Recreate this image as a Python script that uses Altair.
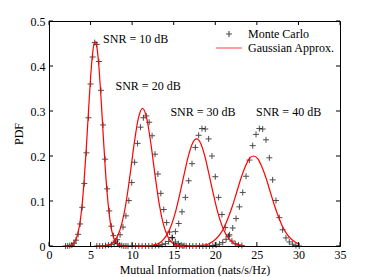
import altair as alt
import pandas as pd

# ---- Monte Carlo histogram points ----
mc10_x = [2.0, 2.25, 2.5, 2.75, 3.0, 3.25, 3.5, 3.75, 4.0, 4.25, 4.5, 4.75, 5.0, 5.25, 5.5, 5.75,
          6.0, 6.25, 6.5, 6.75, 7.0, 7.25, 7.5, 7.75, 8.0, 8.25, 8.5, 8.75, 9.0, 9.25, 9.5]
mc10_y = [0.000, 0.000, 0.001, 0.002, 0.006, 0.013, 0.026, 0.049, 0.086, 0.139, 0.207, 0.285, 0.360,
          0.420, 0.452, 0.448, 0.410, 0.346, 0.269, 0.193, 0.127, 0.078, 0.044, 0.023, 0.011, 0.005,
          0.002, 0.001, 0.000, 0.000, 0.000]

mc20_x = [5.75, 6.10, 6.45, 6.80, 7.15, 7.50, 7.85, 8.20, 8.55, 8.90, 9.25, 9.60, 9.95, 10.30, 10.65,
          11.00, 11.35, 11.70, 12.05, 12.40, 12.75, 13.10, 13.45, 13.80, 14.15, 14.50, 14.85, 15.20,
          15.55, 15.90, 16.25]
mc20_y = [0.000, 0.000, 0.000, 0.001, 0.002, 0.003, 0.007, 0.014, 0.025, 0.042, 0.067, 0.101, 0.141,
          0.186, 0.228, 0.264, 0.285, 0.289, 0.275, 0.245, 0.204, 0.160, 0.117, 0.081, 0.052, 0.031,
          0.018, 0.009, 0.005, 0.002, 0.001]

mc30_x = [10.0, 10.4, 10.8, 11.2, 11.6, 12.0, 12.4, 12.8, 13.2, 13.6, 14.0, 14.4, 14.8, 15.2, 15.6,
          16.0, 16.4, 16.8, 17.2, 17.6, 18.0, 18.4, 18.8, 19.2, 19.6, 20.0, 20.4, 20.8, 21.2, 21.6,
          22.0, 22.4, 22.8, 23.2]
mc30_y = [0.000, 0.000, 0.000, 0.000, 0.000, 0.000, 0.000, 0.001, 0.001, 0.003, 0.005, 0.010, 0.019,
          0.032, 0.050, 0.076, 0.108, 0.145, 0.183, 0.219, 0.246, 0.261, 0.260, 0.238, 0.200, 0.154,
          0.108, 0.070, 0.041, 0.022, 0.011, 0.005, 0.002, 0.001]

mc40_x = [15.3, 15.7, 16.1, 16.5, 16.9, 17.3, 17.7, 18.1, 18.5, 18.9, 19.3, 19.7, 20.1, 20.5, 20.9,
          21.3, 21.7, 22.1, 22.5, 22.9, 23.3, 23.7, 24.1, 24.5, 24.9, 25.3, 25.7, 26.1, 26.5, 26.9,
          27.3, 27.7, 28.1, 28.5, 28.9, 29.3, 29.7, 30.1]
mc40_y = [0.000, 0.000, 0.000, 0.000, 0.000, 0.000, 0.000, 0.000, 0.000, 0.000, 0.000, 0.001, 0.002,
          0.004, 0.008, 0.015, 0.025, 0.040, 0.061, 0.087, 0.119, 0.155, 0.191, 0.223, 0.248, 0.261,
          0.260, 0.236, 0.196, 0.147, 0.101, 0.063, 0.036, 0.018, 0.009, 0.004, 0.001, 0.000]

# ---- Gaussian approximation curves ----
g10_x = [2.0, 2.25, 2.5, 2.75, 3.0, 3.25, 3.5, 3.75, 4.0, 4.25, 4.5, 4.75, 5.0, 5.25, 5.5, 5.75,
         6.0, 6.25, 6.5, 6.75, 7.0, 7.25, 7.5, 7.75, 8.0, 8.25, 8.5, 8.75, 9.0, 9.25, 9.5]
g10_y = [0.000, 0.000, 0.001, 0.003, 0.007, 0.015, 0.030, 0.055, 0.095, 0.152, 0.222, 0.300, 0.374,
         0.429, 0.454, 0.443, 0.399, 0.331, 0.253, 0.178, 0.116, 0.070, 0.038, 0.020, 0.009, 0.004,
         0.002, 0.001, 0.000, 0.000, 0.000]

g20_x = [5.75, 6.25, 6.75, 7.25, 7.75, 8.25, 8.75, 9.25, 9.75, 10.25, 10.75, 11.25, 11.75, 12.25,
         12.75, 13.25, 13.75, 14.25, 14.75, 15.25, 15.75, 16.25]
g20_y = [0.000, 0.000, 0.001, 0.003, 0.008, 0.022, 0.049, 0.094, 0.158, 0.228, 0.284, 0.306, 0.284,
         0.228, 0.158, 0.094, 0.049, 0.022, 0.008, 0.003, 0.001, 0.000]

g30_x = [10.25, 10.75, 11.25, 11.75, 12.25, 12.75, 13.25, 13.75, 14.25, 14.75, 15.25, 15.75, 16.25,
         16.75, 17.25, 17.75, 18.25, 18.75, 19.25, 19.75, 20.25, 20.75, 21.25, 21.75, 22.25, 22.75,
         23.25]
g30_y = [0.000, 0.000, 0.000, 0.000, 0.001, 0.003, 0.006, 0.014, 0.027, 0.048, 0.078, 0.117, 0.159,
         0.199, 0.228, 0.238, 0.228, 0.199, 0.159, 0.117, 0.078, 0.048, 0.027, 0.014, 0.006, 0.003,
         0.001]

g40_x = [15.1, 15.6, 16.1, 16.6, 17.1, 17.6, 18.1, 18.6, 19.1, 19.6, 20.1, 20.6, 21.1, 21.6, 22.1,
         22.6, 23.1, 23.6, 24.1, 24.6, 25.1, 25.6, 26.1, 26.6, 27.1, 27.6, 28.1, 28.6, 29.1, 29.6, 30.1]
g40_y = [0.000, 0.000, 0.000, 0.000, 0.000, 0.000, 0.001, 0.002, 0.004, 0.009, 0.016, 0.027, 0.043,
         0.065, 0.091, 0.121, 0.151, 0.176, 0.194, 0.200, 0.194, 0.176, 0.151, 0.121, 0.091, 0.065,
         0.043, 0.027, 0.016, 0.009, 0.004]

snr_labels = ["SNR = 10 dB", "SNR = 20 dB", "SNR = 30 dB", "SNR = 40 dB"]
label_x = [6.5, 8.0, 14.6, 24.9]
label_y = [0.459, 0.356, 0.298, 0.298]

x_ticks = [0, 5, 10, 15, 20, 25, 30, 35]
y_ticks = [0, 0.1, 0.2, 0.3, 0.4, 0.5]

series_names = ["Monte Carlo", "Gaussian Approx."]

# ---- build tables ----
mc_df = pd.concat([
    pd.DataFrame({"x": mc10_x, "y": mc10_y, "snr": "10"}),
    pd.DataFrame({"x": mc20_x, "y": mc20_y, "snr": "20"}),
    pd.DataFrame({"x": mc30_x, "y": mc30_y, "snr": "30"}),
    pd.DataFrame({"x": mc40_x, "y": mc40_y, "snr": "40"}),
], ignore_index=True)
mc_df["series"] = series_names[0]

g_df = pd.concat([
    pd.DataFrame({"x": g10_x, "y": g10_y, "snr": "10"}),
    pd.DataFrame({"x": g20_x, "y": g20_y, "snr": "20"}),
    pd.DataFrame({"x": g30_x, "y": g30_y, "snr": "30"}),
    pd.DataFrame({"x": g40_x, "y": g40_y, "snr": "40"}),
], ignore_index=True)

lab_df = pd.DataFrame({"x": label_x, "y": label_y, "text": snr_labels})
xt_df = pd.DataFrame({"t": x_ticks})
yt_df = pd.DataFrame({"t": y_ticks})

W, H = 291, 225
FONT = "Liberation Serif"
RED = "#ff0000"
PLUS = "M-1,0L1,0M0,-1L0,1"
LINE = "M-4.3,0L4.3,0"

xs = alt.Scale(domain=[0, 35], nice=False, zero=False)
ys = alt.Scale(domain=[0, 0.5], nice=False)

x_enc = alt.X("x:Q", scale=xs, axis=alt.Axis(
    values=x_ticks, ticks=False, domain=False, grid=False, labelPadding=3,
    labelFlush=False, labelOverlap=False, title="Mutual Information (nats/s/Hz)",
    titlePadding=4))
y_enc = alt.Y("y:Q", scale=ys, axis=alt.Axis(
    values=y_ticks, ticks=False, domain=False, grid=False, labelPadding=4,
    format=".1~f", labelOverlap=False, title="PDF", titlePadding=5))

leg = alt.Legend(title=None, orient="none", legendX=174, legendY=7, padding=0,
                 labelOffset=13, rowPadding=2, symbolSize=36, symbolStrokeWidth=1.1,
                 labelFont=FONT, labelFontSize=12, labelColor="black")

points = alt.Chart(mc_df).mark_point(filled=False, size=36, strokeWidth=1).encode(
    x=x_enc, y=y_enc,
    color=alt.Color("series:N", scale=alt.Scale(domain=series_names, range=["black", RED]), legend=leg),
    shape=alt.Shape("series:N", scale=alt.Scale(domain=series_names, range=[PLUS, LINE]), legend=leg),
)

lines = alt.Chart(g_df).mark_line(color=RED, strokeWidth=1.2, interpolate="monotone").encode(
    x=alt.X("x:Q", scale=xs), y=alt.Y("y:Q", scale=ys), detail="snr:N")

texts = alt.Chart(lab_df).mark_text(align="left", baseline="middle", font=FONT, fontSize=12,
                                     color="black").encode(
    x=alt.X("x:Q", scale=xs), y=alt.Y("y:Q", scale=ys), text="text:N")

TL = 4
tick_bottom = alt.Chart(xt_df).mark_rule(color="black", strokeWidth=1).encode(
    x=alt.X("t:Q", scale=xs), y=alt.value(H), y2=alt.value(H - TL))
tick_top = alt.Chart(xt_df).mark_rule(color="black", strokeWidth=1).encode(
    x=alt.X("t:Q", scale=xs), y=alt.value(0), y2=alt.value(TL))
tick_left = alt.Chart(yt_df).mark_rule(color="black", strokeWidth=1).encode(
    y=alt.Y("t:Q", scale=ys), x=alt.value(0), x2=alt.value(TL))
tick_right = alt.Chart(yt_df).mark_rule(color="black", strokeWidth=1).encode(
    y=alt.Y("t:Q", scale=ys), x=alt.value(W), x2=alt.value(W - TL))

chart = alt.layer(points, lines, texts, tick_bottom, tick_top, tick_left, tick_right).properties(
    width=W, height=H,
    background="white",
    autosize=alt.AutoSizeParams(type="none"),
    padding={"left": 41, "top": 13, "right": 26, "bottom": 30},
).configure_view(stroke="black", strokeWidth=1).configure_axis(
    labelFont=FONT, titleFont=FONT, labelFontSize=12, titleFontSize=12,
    labelColor="black", titleColor="black", titleFontWeight="normal",
)

chart.save("out.html", embed_options={"renderer": "svg", "actions": False})
